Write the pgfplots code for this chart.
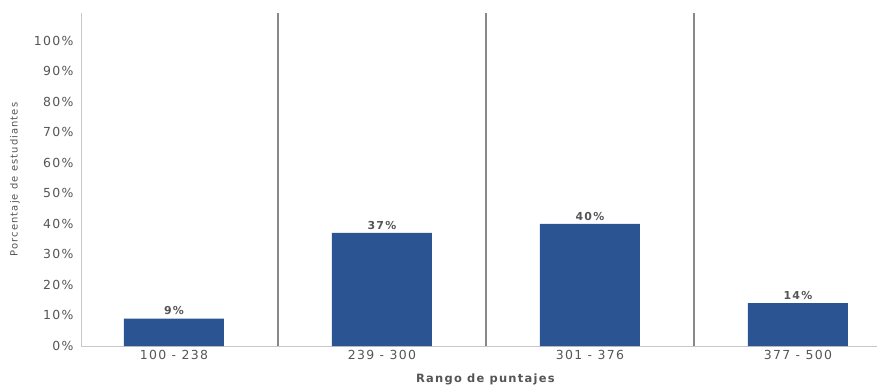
\documentclass[border=0pt]{standalone}
\usepackage{pgfplots}
\pgfplotsset{compat=1.18}
\usepackage{fontspec}
\setmainfont{DejaVu Sans}
\newfontfamily\lbl[LetterSpace=11]{DejaVu Sans}
\definecolor{barblue}{HTML}{2B5592}
\definecolor{txt}{HTML}{555555}
\definecolor{sep}{HTML}{888888}
\definecolor{axl}{HTML}{C8C8C8}
\begin{document}
\begin{tikzpicture}
\useasboundingbox (-81bp,-41bp) rectangle (796bp,346bp);
\begin{axis}[
  at={(0,0)}, anchor=south west,
  scale only axis, width=796bp, height=333bp,
  ymin=0, ymax=109, xmin=-0.447, xmax=3.38,
  axis x line*=bottom, axis y line*=left,
  axis line style={-, axl, line width=1pt},
  ytick={0,10,...,100},
  yticklabel={\pgfmathprintnumber{\tick}\%},
  xtick={0,1,2,3},
  xticklabels={100 - 238, 239 - 300, 301 - 376, 377 - 500},
  major tick length=0pt,
  /pgf/number format/assume math mode=true,
  tick label style={font=\lbl\fontsize{12.5}{13}\selectfont, text=txt},
  xticklabel style={yshift=-1bp},
  yticklabel style={xshift=-4bp},
  extra x ticks={0.5,1.5,2.5},
  extra x tick labels={},
  extra x tick style={grid=major, major grid style={sep, line width=1.6pt}},
  xlabel={Rango de puntajes},
  xlabel style={font=\lbl\fontsize{11.5}{12}\selectfont\bfseries, text=txt, at={(rel axis cs:0.508,0)}, anchor=center, yshift=-33bp},
  ylabel={Porcentaje de estudiantes},
  ylabel style={font=\lbl\fontsize{10}{11}\selectfont, text=txt, at={(rel axis cs:-0.083,0.5)}, anchor=center},
  ybar, bar width=100bp,
  nodes near coords={\pgfmathprintnumber{\pgfplotspointmeta}\%},
  nodes near coords style={font=\lbl\fontsize{11}{12}\selectfont\bfseries, text=txt, yshift=0bp},
]
\addplot[fill=barblue, draw=none] coordinates {(0,9) (1,37) (2,40) (3,14)};
\end{axis}
\end{tikzpicture}
\end{document}
